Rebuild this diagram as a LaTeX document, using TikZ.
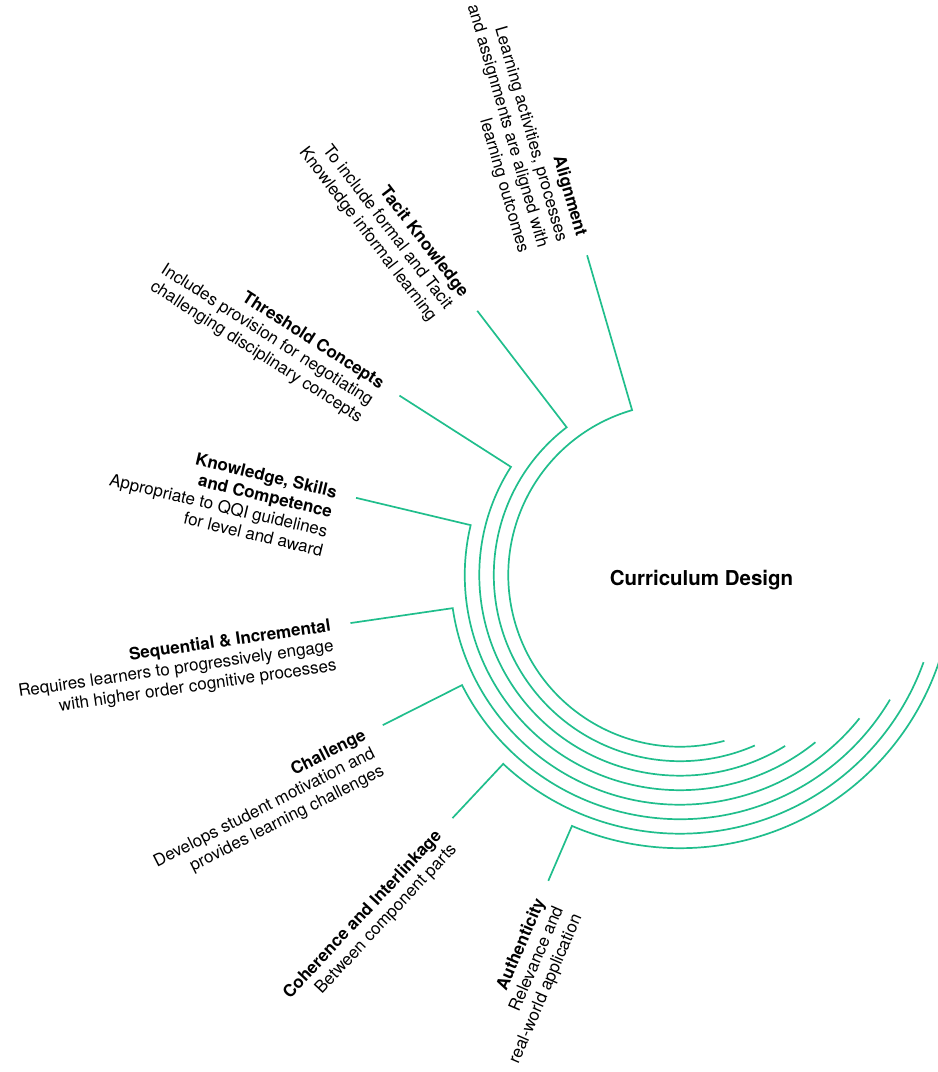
\documentclass[tikz,border=0pt]{standalone}
\usepackage{fontspec}
\setmainfont{TeX Gyre Heros}
\usetikzlibrary{calc}
\definecolor{grn}{RGB}{32,190,140}
\tikzset{
  arcline/.style={draw=grn, line width=1.7pt},
  lbl/.style={inner sep=0pt, align=right, font=\fontsize{17}{20}\selectfont, anchor=north east, text=black},
  hub/.style={inner sep=0pt, font=\fontsize{20.5}{24}\selectfont\bfseries}
}
\newcommand\lab[3]{%
  \node[lbl, rotate=#1-180] (#2) at ($(#1:353)+(#1-90:9)$) {#3};}
\begin{document}
\begin{tikzpicture}[x=1pt,y=1pt]
\useasboundingbox (-680,-497) rectangle (258,575);
\clip (-680,-497) rectangle (258,575);
\coordinate (O) at (0,0);
\node[hub] (cd) at (21.5,-5) {Curriculum Design};
\foreach \i/\ts/\te/\r in {1/106.2/285/171.7, 2/127.5/293.7/186.2, 3/147.4/301.6/200.7, 4/166.6/309/215.2, 5/188.3/321.4/229.7, 6/206.8/329.3/244.2, 7/226.9/340.3/258.7, 8/246.7/355/273.2}{
  \coordinate (p\i) at (\ts:333);
  \coordinate (q\i) at (\ts:\r);
  \draw[arcline] (p\i) -- (q\i) arc[start angle=\ts, end angle=\te, radius=\r];
}
\lab{106.2}{alignment}{\strut\textbf{Alignment}\\Learning activities, processes\\and assignments are aligned with\\learning outcomes}
\lab{127.5}{tacit}{\strut\textbf{Tacit Knowledge}\\To include formal and Tacit\\Knowledge informal learning}
\lab{147.4}{threshold}{\strut\textbf{Threshold Concepts}\\Includes provision for negotiating\\challenging disciplinary concepts}
\lab{166.6}{ksc}{\strut\textbf{Knowledge, Skills}\\\textbf{and Competence}\\Appropriate to QQI guidelines\\for level and award}
\lab{188.3}{seq}{\strut\textbf{Sequential \& Incremental}\\Requires learners to progressively engage\\with higher order cognitive processes}
\lab{206.8}{challenge}{\strut\textbf{Challenge}\\Develops student motivation and\\provides learning challenges}
\lab{226.9}{coherence}{\strut\textbf{Coherence and Interlinkage}\\Between component parts}
\lab{246.7}{authenticity}{\strut\textbf{Authenticity}\\Relevance and\\real-world application}
\end{tikzpicture}
\end{document}
